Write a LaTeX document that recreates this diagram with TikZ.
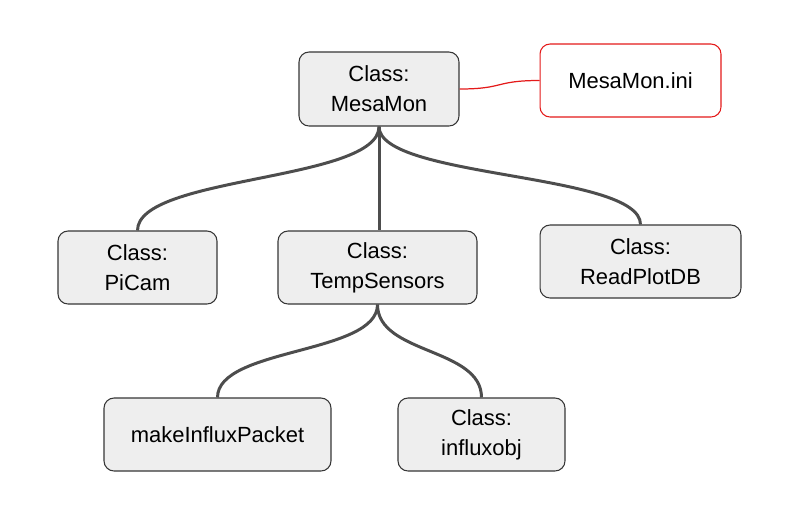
\documentclass[tikz,border=0pt]{standalone}
\usepackage{fontspec}
\setmainfont{Liberation Sans}
\usetikzlibrary{positioning}
\definecolor{BoxFill}{HTML}{EEEEEE}
\definecolor{BoxLine}{HTML}{363636}
\definecolor{Wire}{HTML}{4D4D4D}
\definecolor{IniRed}{HTML}{E41A1A}

\begin{document}
\begin{tikzpicture}[x=0.02cm,y=-0.02cm,
    classbox/.style={rounded corners=2mm,draw=BoxLine,fill=BoxFill,line width=0.6pt,
      minimum height=1.46cm,align=center,inner sep=0pt,
      font=\fontsize{12.5}{17}\selectfont},
    inibox/.style={classbox,draw=IniRed,fill=white},
    wire/.style={draw=Wire,line width=1.7pt},
    redwire/.style={draw=IniRed,line width=0.7pt}
  ]
    \useasboundingbox (0,0) rectangle (800,511);
    \node[classbox,minimum width=3.2cm,minimum height=1.48cm] (mesamon) at (379,89) {Class:\\MesaMon};
    \node[inibox,minimum width=3.62cm] (ini) at (630.5,80.5) {MesaMon.ini};
    \node[classbox,minimum width=3.18cm] (picam) at (137.5,267.5) {Class:\\PiCam};
    \node[classbox,minimum width=3.98cm] (temp) at (377.5,267.5) {Class:\\TempSensors};
    \node[classbox,minimum width=4.02cm] (readplot) at (640.5,261.5) {Class:\\ReadPlotDB};
    \node[classbox,minimum width=4.54cm] (packet) at (217.5,434.5) {makeInfluxPacket};
    \node[classbox,minimum width=3.34cm] (influx) at (481.5,434.5) {Class:\\influxobj};
    % tree links
    \draw[wire] (mesamon.south) .. controls +(0,55) and +(0,-55) .. (picam.north);
    \draw[wire] (mesamon.south) -- (mesamon.south |- temp.north);
    \draw[wire] (mesamon.south) .. controls +(0,52) and +(0,-52) .. (readplot.north);
    \draw[wire] (temp.south) .. controls +(0,50) and +(0,-50) .. (packet.north);
    \draw[wire] (temp.south) .. controls +(0,50) and +(0,-50) .. (influx.north);
    % config file link
    \draw[redwire] (mesamon.east) .. controls +(45,0) and +(-45,0) .. (ini.west);
  \end{tikzpicture}
\end{document}
